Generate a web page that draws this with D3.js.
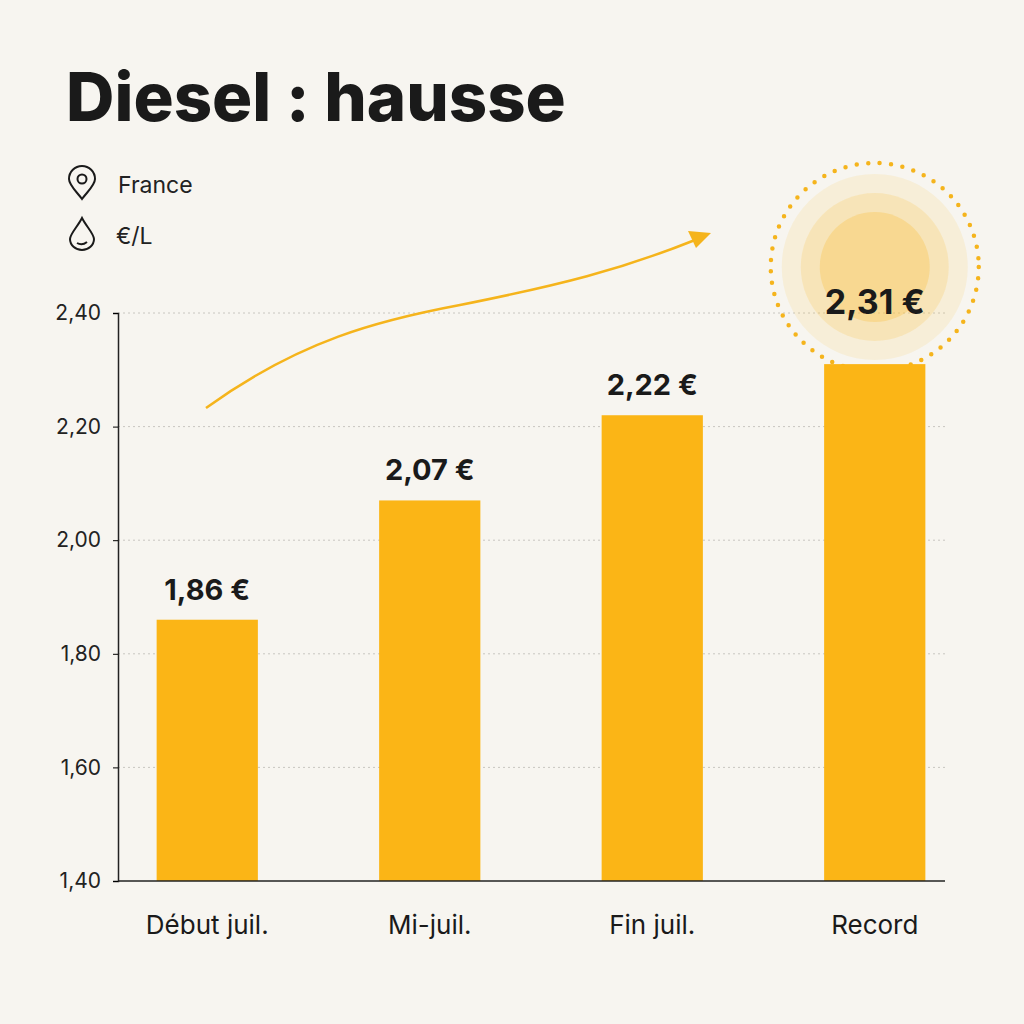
<!DOCTYPE html>
<html><head><meta charset="utf-8">
<script src="https://cdn.jsdelivr.net/npm/d3@7"></script>
<style>body{margin:0;background:#f7f5f0}</style>
</head><body>
<script>
var categories = ["Début juil.", "Mi-juil.", "Fin juil.", "Record"];
var values = [1.86, 2.07, 2.22, 2.31];
var tickValues = [1.40, 1.60, 1.80, 2.00, 2.20, 2.40];

var w = 1024, h = 1024;
var fmt = function(v) { return v.toFixed(2).replace(".", ","); };

var svg = d3.select("body").append("svg").attr("width", w).attr("height", h)
    .style("font-family", "Inter, 'Noto Sans', sans-serif");
svg.append("rect").attr("width", w).attr("height", h).attr("fill", "#f7f5f0");

var x = d3.scaleBand().domain(categories).range([96, 986])
    .paddingInner(0.545).paddingOuter(0.2725);
var y = d3.scaleLinear().domain([1.40, 2.40]).range([881, 313]);

// title
svg.append("text").attr("x", 66).attr("y", 121).text("Diesel : hausse")
    .attr("font-size", 67).attr("font-weight", 800).attr("fill", "#1a1a1a");

// icons
var pin = svg.append("g").attr("transform", "translate(82,184)")
    .attr("fill", "none").attr("stroke", "#1a1a1a").attr("stroke-width", 2);
pin.append("path").attr("d", "M0,15 C-6,7 -13,1 -13,-5 A13,13 0 0 1 13,-5 C13,1 6,7 0,15 Z");
pin.append("circle").attr("cy", -5).attr("r", 4.5);
var drop = svg.append("g").attr("transform", "translate(82,232)")
    .attr("fill", "none").attr("stroke", "#1a1a1a").attr("stroke-width", 2);
drop.append("path").attr("d", "M0,-14 C-4,-6 -12,2 -12,7 A12,11 0 0 0 12,7 C12,2 4,-6 0,-14 Z");
drop.append("path").attr("d", "M-5,11 Q0,14 5,10");
svg.append("text").attr("x", 118).attr("y", 193).text("France").attr("font-size", 23).attr("fill", "#222");
svg.append("text").attr("x", 116).attr("y", 244).text("€/L").attr("font-size", 23).attr("fill", "#222");

// grid
svg.append("g").selectAll("line").data(tickValues.slice(1)).enter().append("line")
    .attr("x1", 118).attr("x2", 945).attr("y1", function(d) { return y(d); }).attr("y2", function(d) { return y(d); })
    .attr("stroke", "#c8c6c0").attr("stroke-dasharray", "2,3");

var yAxis = d3.axisLeft(y).tickValues(tickValues).tickFormat(fmt).tickSize(5).tickPadding(12);
var ya = svg.append("g").attr("transform", "translate(118,0)").call(yAxis);
ya.select(".domain").attr("stroke", "#222").attr("stroke-width", 1.5);
ya.selectAll("text").attr("font-size", 21).attr("fill", "#222").attr("font-family", "Inter, sans-serif");

// glow for record
var last = categories[categories.length - 1];
var cx = x(last) + x.bandwidth() / 2, cy = 267;
[[93, 0.14], [74, 0.22], [55, 0.35]].forEach(function(c) {
    svg.append("circle").attr("cx", cx).attr("cy", cy).attr("r", c[0])
        .attr("fill", "#f9c447").attr("opacity", c[1]);
});
svg.append("circle").attr("cx", cx).attr("cy", cy).attr("r", 104)
    .attr("fill", "none").attr("stroke", "#f5b41c").attr("stroke-width", 4.5)
    .attr("stroke-linecap", "round").attr("stroke-dasharray", "0,11.5");

// bars
svg.append("g").selectAll("rect").data(values).enter().append("rect")
    .attr("x", function(d, i) { return x(categories[i]); })
    .attr("y", function(d) { return y(d); })
    .attr("width", x.bandwidth())
    .attr("height", function(d) { return y(1.40) - y(d); })
    .attr("fill", "#fbb516");

svg.append("g").selectAll("text").data(values).enter().append("text")
    .attr("x", function(d, i) { return x(categories[i]) + x.bandwidth() / 2; })
    .attr("y", function(d, i) { return i === values.length - 1 ? y(d) - 50 : y(d) - 20; })
    .attr("text-anchor", "middle").attr("font-size", function(d, i) { return i === values.length - 1 ? 34 : 29; })
    .attr("font-weight", 700).attr("fill", "#1a1a1a")
    .text(function(d) { return fmt(d) + " €"; });

// x axis
svg.append("line").attr("x1", 118).attr("x2", 945).attr("y1", 881).attr("y2", 881)
    .attr("stroke", "#222").attr("stroke-width", 1.5);
svg.append("g").selectAll("text").data(categories).enter().append("text")
    .attr("x", function(d) { return x(d) + x.bandwidth() / 2; }).attr("y", 934)
    .attr("text-anchor", "middle").attr("font-size", 26).attr("fill", "#1a1a1a").text(function(d) { return d; });

// trend arrow
svg.append("path").attr("d", "M206,408 C300,340 380,320 460,305 C560,285 620,270 695,240")
    .attr("fill", "none").attr("stroke", "#f5b41c").attr("stroke-width", 2.5);
svg.append("path").attr("d", "M711,233 L688,231 L696,248 Z").attr("fill", "#f5b41c");
</script>
</body></html>
